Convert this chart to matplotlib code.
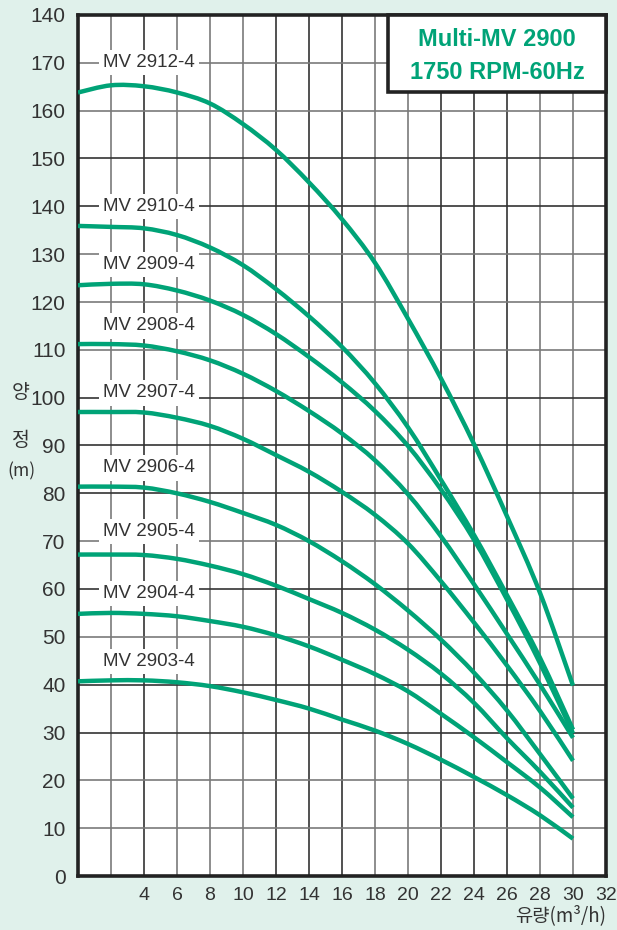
import matplotlib
matplotlib.use("Agg")
import matplotlib.pyplot as plt
from matplotlib.patches import Rectangle, PathPatch
from matplotlib.path import Path

# ---- data ----
flow = [0, 2, 4, 6, 8, 10, 12, 14, 16, 18, 20, 22, 24, 26, 28, 30]

mv2912 = [163.8, 165.3, 165.1, 163.8, 161.5, 157.2, 151.8, 145.0, 137.3, 128.2, 116.5, 104.0, 90.3, 75.2, 59.2, 39.8]
mv2910 = [135.9, 135.7, 135.4, 134.0, 131.4, 127.7, 122.7, 117.0, 110.6, 103.0, 93.8, 82.8, 71.3, 58.7, 45.6, 30.6]
mv2909 = [123.5, 123.8, 123.7, 122.4, 120.3, 117.3, 113.3, 108.5, 103.2, 97.2, 89.9, 80.8, 70.3, 57.8, 44.5, 29.8]
mv2908 = [111.2, 111.2, 110.9, 109.7, 107.8, 105.0, 101.4, 97.2, 92.5, 86.9, 79.8, 71.0, 61.0, 50.6, 40.0, 28.9]
mv2907 = [97.0, 97.0, 96.9, 95.8, 94.1, 91.4, 88.0, 84.5, 80.3, 75.5, 69.5, 61.6, 53.0, 44.0, 34.5, 24.1]
mv2906 = [81.4, 81.4, 81.2, 80.0, 78.2, 75.9, 73.4, 70.0, 65.8, 61.0, 55.5, 49.4, 42.5, 34.6, 25.5, 16.2]
mv2905 = [67.2, 67.2, 67.1, 66.3, 64.9, 63.1, 60.7, 57.9, 55.0, 51.5, 47.3, 42.3, 36.2, 28.8, 21.8, 14.3]
mv2904 = [54.8, 55.0, 54.8, 54.3, 53.3, 52.1, 50.3, 48.0, 45.2, 42.2, 38.6, 33.9, 29.0, 23.8, 18.5, 12.3]
mv2903 = [40.7, 40.9, 40.9, 40.5, 39.7, 38.4, 36.8, 35.0, 32.7, 30.4, 27.6, 24.3, 20.7, 16.9, 12.7, 7.8]

series = [mv2912, mv2910, mv2909, mv2908, mv2907, mv2906, mv2905, mv2904, mv2903]
names = ["MV 2912-4", "MV 2910-4", "MV 2909-4", "MV 2908-4", "MV 2907-4",
         "MV 2906-4", "MV 2905-4", "MV 2904-4", "MV 2903-4"]
label_heads = [170, 140, 127.9, 115, 101, 85.3, 72, 59, 44.8]

x_ticks = [4, 6, 8, 10, 12, 14, 16, 18, 20, 22, 24, 26, 28, 30, 32]
y_ticks = [0, 10, 20, 30, 40, 50, 60, 70, 80, 90, 100, 110, 120, 130, 140, 150, 160, 170, 180]
y_tick_labels = ["0", "10", "20", "30", "40", "50", "60", "70", "80", "90", "100",
                 "110", "120", "130", "140", "150", "160", "170", "140"]

title_lines = ["Multi-MV 2900", "1750 RPM-60Hz"]

# ---- style ----
BG = "#e0f1eb"
GREEN = "#00a377"
TXT = "#333333"
plt.rcParams["font.family"] = ["Liberation Sans", "DejaVu Sans"]

fig = plt.figure(figsize=(6.17, 9.30), dpi=100, facecolor=BG)
W, H = 617, 930
ax = fig.add_axes([78 / W, 54 / H, 528 / W, 861 / H])
ax.set_facecolor("white")
ax.set_xlim(0, 32)
ax.set_ylim(0, 180)

# grid (alternating dark / grey like the print)
dark_x = {4, 12, 14, 16, 22, 24, 26}
for xv in range(2, 32, 2):
    ax.axvline(xv, color="#333333" if xv in dark_x else "#7a7a7a", lw=1.2, zorder=1)
dark_y = {30, 40, 60, 80, 90, 100, 140, 150}
for yv in range(10, 180, 10):
    ax.axhline(yv, color="#333333" if yv in dark_y else "#7a7a7a", lw=1.2, zorder=1)

for s in ax.spines.values():
    s.set_linewidth(2.6)
    s.set_color("#222222")

ax.set_xticks(x_ticks)
ax.set_xticklabels([str(v) for v in x_ticks], fontsize=14, color=TXT)
ax.set_yticks(y_ticks)
ax.set_yticklabels(y_tick_labels, fontsize=15, color=TXT)
ax.tick_params(axis="both", length=0)
ax.tick_params(axis="y", pad=9)
ax.tick_params(axis="x", pad=8)


def smooth_path(xs, ys):
    """Catmull-Rom through the read points, drawn as cubic Bezier segments."""
    pts = list(zip(xs, ys))
    verts = [pts[0]]
    codes = [Path.MOVETO]
    n = len(pts)
    for i in range(n - 1):
        p0 = pts[i - 1] if i > 0 else pts[i]
        p1 = pts[i]
        p2 = pts[i + 1]
        p3 = pts[i + 2] if i + 2 < n else pts[i + 1]
        c1 = (p1[0] + (p2[0] - p0[0]) / 6.0, p1[1] + (p2[1] - p0[1]) / 6.0)
        c2 = (p2[0] - (p3[0] - p1[0]) / 6.0, p2[1] - (p3[1] - p1[1]) / 6.0)
        verts += [c1, c2, p2]
        codes += [Path.CURVE4] * 3
    return Path(verts, codes)


for ys in series:
    ax.add_patch(PathPatch(smooth_path(flow, ys), fc="none", ec=GREEN, lw=3.2,
                           capstyle="butt", joinstyle="round", zorder=4))

# curve labels
for nm, yl in zip(names, label_heads):
    ax.text(1.52, yl, nm, fontsize=13.5, color=TXT, ha="left", va="center",
            zorder=3, bbox=dict(boxstyle="square,pad=0.22", fc="white", ec="none"))

# title box
ax.add_patch(Rectangle((0.587, 0.9106), 0.413, 0.0894, transform=ax.transAxes,
                       fc="white", ec="#222222", lw=2.6, zorder=5, clip_on=False))
ax.text(0.7936, 0.972, title_lines[0], transform=ax.transAxes, ha="center",
        va="center", fontsize=17, fontweight="bold", color=GREEN, zorder=6)
ax.text(0.7936, 0.933, title_lines[1], transform=ax.transAxes, ha="center",
        va="center", fontsize=17, fontweight="bold", color=GREEN, zorder=6)

# axis titles (Korean)
kfam = ["Noto Sans CJK KR", "DejaVu Sans"]
fig.text(21 / W, 1 - 392 / H, "양", family=kfam, fontsize=14, color=TXT,
         ha="center", va="center")
fig.text(21 / W, 1 - 440 / H, "정", family=kfam, fontsize=14, color=TXT,
         ha="center", va="center")
fig.text(21 / W, 1 - 471 / H, "(m)", family=kfam, fontsize=12.5, color=TXT,
         ha="center", va="center")
fig.text(606 / W, 1 - 916 / H, "유량(m³/h)", family=kfam, fontsize=13.5,
         color=TXT, ha="right", va="center")

fig.savefig("out.png", dpi=100, facecolor=BG)
